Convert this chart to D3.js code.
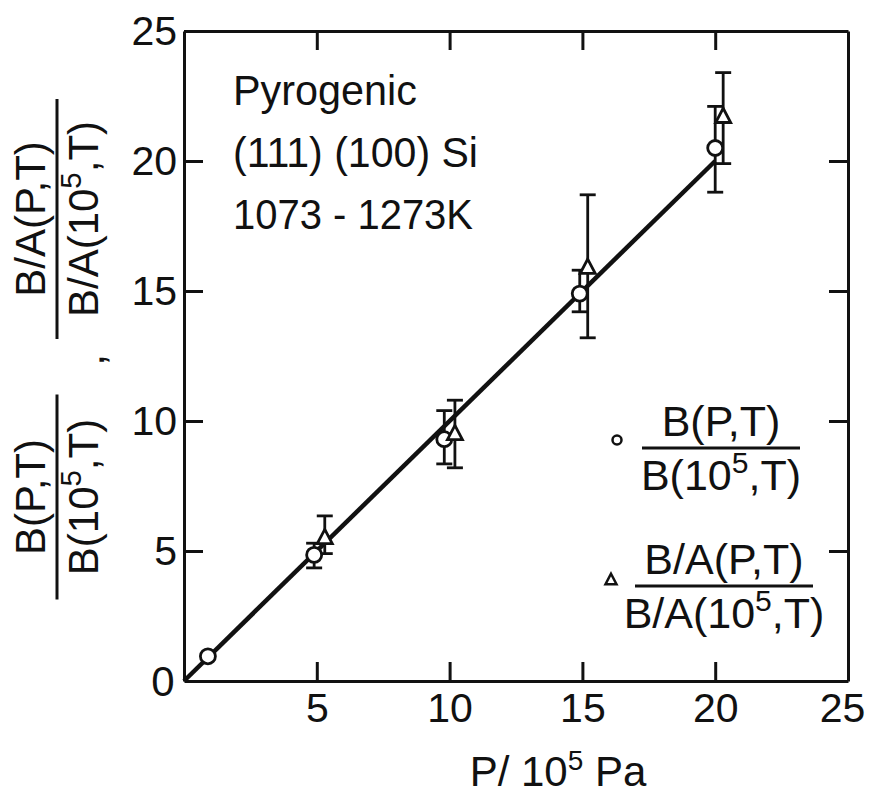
<!DOCTYPE html>
<html>
<head>
<meta charset="utf-8">
<script src="https://cdn.jsdelivr.net/npm/d3@7"></script>
<style>
    body { margin: 0; background: #fff; }
    svg { display: block; font-family: "Liberation Sans", Arial, sans-serif; }
    .axis text { font-size: 41px; fill: #111; }
    .axis path, .axis line { stroke: #111; stroke-width: 3; }
</style>
</head>
<body>
<div class="charts-div"></div>
<script>
// Circles: B(P,T)/B(1e5,T)
const circleP = [0.9, 4.9, 9.8, 14.9, 20.0];
const circleVal = [0.95, 4.85, 9.3, 14.9, 20.5];
const circleLow = [null, 4.35, 8.35, 14.2, 18.8];
const circleHigh = [null, 5.3, 10.4, 15.8, 22.1];

// Triangles: B/A(P,T)/B/A(1e5,T)
const triP = [5.3, 10.2, 15.2, 20.3];
const triVal = [5.5, 9.5, 15.9, 21.7];
const triLow = [4.9, 8.2, 13.2, 19.9];
const triHigh = [6.35, 10.8, 18.7, 23.4];

// fitted line y = x
const fitP = [0, 20];
const fitVal = [0, 20];

const xTicks = [5, 10, 15, 20, 25];
const yTicks = [5, 10, 15, 20, 25];
const innerTicks = [5, 10, 15, 20];

const width = 869, height = 796;
const margins = { left: 184, right: 21, top: 31, bottom: 115 };

const svg = d3.select(".charts-div").append("svg").attr("width", width).attr("height", height);

const x = d3.scaleLinear().domain([0, 25]).range([margins.left, width - margins.right]);
const y = d3.scaleLinear().domain([0, 25]).range([height - margins.bottom, margins.top]);

const tickLen = 19;

// bottom axis
const bottomAxis = svg.append("g").attr("class", "axis")
    .attr("transform", `translate(0,${y(0)})`)
    .call(d3.axisBottom(x).tickValues(xTicks).tickSize(-tickLen).tickSizeOuter(0).tickPadding(12));
// last label sits a bit left so it stays in the window
bottomAxis.selectAll(".tick text").filter(d => d === 25).attr("dx", -6);
// top axis
svg.append("g").attr("class", "axis")
    .attr("transform", `translate(0,${y(25)})`)
    .call(d3.axisTop(x).tickValues(innerTicks).tickSize(-tickLen).tickSizeOuter(0).tickFormat(""));
// left axis
svg.append("g").attr("class", "axis")
    .attr("transform", `translate(${x(0)},0)`)
    .call(d3.axisLeft(y).tickValues(yTicks).tickSize(-tickLen).tickSizeOuter(0).tickPadding(7));
// right axis
svg.append("g").attr("class", "axis")
    .attr("transform", `translate(${x(25)},0)`)
    .call(d3.axisRight(y).tickValues(innerTicks).tickSize(-tickLen).tickSizeOuter(0).tickFormat(""));

// shared zero label at the corner
svg.append("text").attr("x", x(0) - 21).attr("y", y(0) + 15)
    .attr("text-anchor", "middle").attr("font-size", 42).attr("fill", "#111").text("0");

// axis title
const xt = svg.append("text").attr("x", 558).attr("y", 786)
    .attr("text-anchor", "middle").attr("font-size", 42).attr("fill", "#111");
xt.append("tspan").text("P/ 10");
xt.append("tspan").attr("dy", -16).attr("font-size", 28).text("5");
xt.append("tspan").attr("dy", 16).text(" Pa");

// fraction helper (horizontal or rotated)
const fraction = (g, num, denPre, denPost, lineW, size) => {
    g.append("line").attr("x1", -lineW / 2).attr("x2", lineW / 2)
        .attr("stroke", "#111").attr("stroke-width", 3);
    g.append("text").attr("y", -12).attr("text-anchor", "middle")
        .attr("font-size", size).attr("fill", "#111").text(num);
    const d = g.append("text").attr("y", size * 0.98).attr("text-anchor", "middle")
        .attr("font-size", size).attr("fill", "#111");
    d.append("tspan").text(denPre);
    d.append("tspan").attr("dy", -size * 0.4).attr("font-size", size * 0.7).text("5");
    d.append("tspan").attr("dy", size * 0.4).text(denPost);
};

// y axis label (rotated)
fraction(svg.append("g").attr("transform", "translate(57,497) rotate(-90)"),
    "B(P,T)", "B(10", ",T)", 205, 42);
fraction(svg.append("g").attr("transform", "translate(57,219) rotate(-90)"),
    "B/A(P,T)", "B/A(10", ",T)", 240, 42);
svg.append("text").attr("transform", "translate(104,360) rotate(-90)")
    .attr("text-anchor", "middle").attr("font-size", 42).attr("fill", "#111").text(",");

// description text
const desc = ["Pyrogenic", "(111) (100) Si", "1073 - 1273K"];
const descWidth = [184, 245, 240];
svg.append("g").selectAll("text").data(desc).join("text")
    .attr("x", 233).attr("y", (d, i) => 105 + i * 62)
    .attr("font-size", 43).attr("fill", "#111")
    .attr("textLength", (d, i) => descWidth[i]).attr("lengthAdjust", "spacingAndGlyphs")
    .text(d => d);

// fitted line
svg.append("path")
    .datum(fitP.map((p, i) => [p, fitVal[i]]))
    .attr("d", d3.line().x(d => x(d[0])).y(d => y(d[1])))
    .attr("stroke", "#111").attr("stroke-width", 4.5).attr("fill", "none");

// error bars
const drawErr = (ps, lows, highs) => {
    const g = svg.append("g").attr("stroke", "#111").attr("stroke-width", 2.8);
    ps.forEach((p, i) => {
        if (lows[i] == null) return;
        g.append("line").attr("x1", x(p)).attr("x2", x(p)).attr("y1", y(lows[i])).attr("y2", y(highs[i]));
        [lows[i], highs[i]].forEach(v => {
            g.append("line").attr("x1", x(p) - 8).attr("x2", x(p) + 8).attr("y1", y(v)).attr("y2", y(v));
        });
    });
};
drawErr(circleP, circleLow, circleHigh);
drawErr(triP, triLow, triHigh);

// markers
const triPath = (cx, cy, s) => {
    const h = s * 0.95;
    return `M${cx},${cy - h * 0.6}L${cx + s / 2},${cy + h * 0.4}L${cx - s / 2},${cy + h * 0.4}Z`;
};
svg.append("g").selectAll("circle").data(circleP).join("circle")
    .attr("cx", d => x(d)).attr("cy", (d, i) => y(circleVal[i])).attr("r", 7.5)
    .attr("fill", "#fff").attr("stroke", "#111").attr("stroke-width", 2.8);
svg.append("g").selectAll("path").data(triP).join("path")
    .attr("d", (d, i) => triPath(x(d), y(triVal[i]), 15))
    .attr("fill", "#fff").attr("stroke", "#111").attr("stroke-width", 2.8);

// legend
svg.append("circle").attr("cx", 617).attr("cy", 440).attr("r", 4.5)
    .attr("fill", "#fff").attr("stroke", "#111").attr("stroke-width", 2.5);
fraction(svg.append("g").attr("transform", "translate(721,448)"), "B(P,T)", "B(10", ",T)", 158, 43);
svg.append("path").attr("d", triPath(611, 580, 11))
    .attr("fill", "#fff").attr("stroke", "#111").attr("stroke-width", 2.5);
fraction(svg.append("g").attr("transform", "translate(724,586)"), "B/A(P,T)", "B/A(10", ",T)", 178, 43);
</script>
</body>
</html>
